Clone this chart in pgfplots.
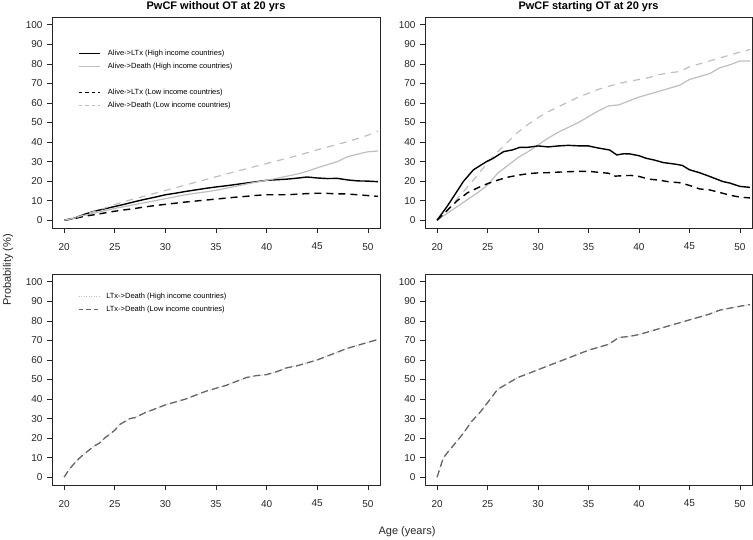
\documentclass[border=0pt]{standalone}
\usepackage{pgfplots}
\pgfplotsset{compat=1.18}
\usepackage{fontspec}
\setmainfont{Liberation Sans}

\definecolor{rgray}{HTML}{BEBEBE}
\definecolor{dgray}{HTML}{666666}

\pgfplotsset{
  panel/.style={
    scale only axis,
    anchor=south west,
    height=211pt,
    xmin=18.8, xmax=51.2,
    ymin=-4, ymax=104,
    xtick={20,25,...,50},
    ytick={0,10,...,100},
    tick align=outside,
    tick pos=left,
    major tick length=5pt,
    axis line style={black!85, line width=0.7pt},
    every tick/.style={black!85, line width=0.7pt},
    /pgf/number format/assume math mode=true,
    tick label style={font=\fontsize{10}{12}\selectfont, black!85},
    xticklabel style={yshift=-6.5pt},
    yticklabel style={xshift=-1pt},
    title style={font=\fontsize{11}{13}\selectfont\bfseries, anchor=base, yshift=1.5pt},
    legend cell align=left,
    legend image code/.code={\draw[##1] (0pt,0pt) -- (21pt,0pt);},
  },
  hi/.style={black, line width=1.4pt},
  hd/.style={rgray, line width=1.2pt},
  li/.style={black, line width=1.4pt, dash pattern=on 7pt off 5pt},
  ld/.style={rgray, line width=1.2pt, dash pattern=on 7pt off 6pt},
  tdot/.style={rgray, line width=1pt, dash pattern=on 1pt off 2pt},
  tdash/.style={dgray, line width=1.3pt, dash pattern=on 7pt off 4pt},
}

% PwCF without OT
\pgfplotstableread{
age val
20 0
21 1
22 3
23 4.6
24 5.8
25 7
26 8.2
27 9.5
28 10.7
29 11.8
30 13
31 13.8
32 14.7
33 15.5
34 16.3
35 17
36 17.6
37 18.3
38 19
39 19.7
40 20.4
41 20.7
42 21
43 21.5
44 22.1
45 21.6
46 21.3
47 21.4
48 20.6
49 20.1
50 20
51 19.7
}\nohiltx
\pgfplotstableread{
age val
20 0
21 1
22 2.5
23 3.6
24 4.8
25 6
26 7
27 8
28 9
29 10
30 11
31 12
32 13
33 13.8
34 14.5
35 15.3
36 16.3
37 17.4
38 18.5
39 19.5
40 20.4
41 21.4
42 22.5
43 23.6
44 25
45 26.8
46 28.4
47 30
48 32.5
49 33.8
50 35
51 35.4
}\nohidth
\pgfplotstableread{
age val
20 0
21 0.8
22 2
23 2.8
24 3.7
25 4.6
26 5.3
27 6
28 6.8
29 7.5
30 8.1
31 8.7
32 9.3
33 9.8
34 10.3
35 10.8
36 11.3
37 11.8
38 12.2
39 12.7
40 13
41 13
42 13
43 13.3
44 13.6
45 13.8
46 13.7
47 13.5
48 13.4
49 13
50 12.6
51 12.2
}\nololtx
\pgfplotstableread{
age val
20 0
21 1
22 2.8
23 4.5
24 6.2
25 8
26 9.6
27 11
28 12.4
29 13.8
30 15.2
31 16.6
32 18
33 19.4
34 20.8
35 22.2
36 23.6
37 25
38 26.3
39 27.7
40 29
41 30.3
42 31.7
43 33
44 34.5
45 36
46 37.4
47 38.8
48 40.2
49 41.8
50 43.5
51 45.5
}\nolodth
% PwCF starting OT
\pgfplotstableread{
age val
20 0
21 7.1
22 15
22.6 19.8
23.6 25.8
24.9 30
25.5 31.5
26.6 35.1
27.5 36
28.2 37.3
29 37.3
30 38
31 37.5
32 38
33 38.3
34.2 38
35 38
35.8 37.1
37.1 35.9
37.8 33.4
38.5 34
39.1 33.9
40 33
40.7 31.7
41.5 30.8
42.4 29.5
43.7 28.6
44.3 28
45 25.8
46 24.3
47 22.4
48.3 19.8
49 19
50 17.3
51 16.8
}\otiltx
\pgfplotstableread{
age val
20 0
21 3.5
22 7
23 10.5
24 14
25 18
26 24
27 28
28 32
29 35
30 38.5
31 42
32 45
33 47.5
34 50
35 53
36 56
37 58.5
38 59
39 61
40 63
41 64.5
42 66
43 67.5
44 69
45 72
46 73.5
47 75
48 78
49 79.5
50 81.5
51 81.5
}\otihdth
\pgfplotstableread{
age val
20 0
21 5
22 10
23 14
24 16.5
25 18.7
26 20.5
27 22
28 23
29 23.8
30 24.2
31 24.3
32 24.6
33 24.8
34 25
35 25
36 24.5
37 24
37.5 22.5
38.5 22.8
39.2 22.9
40 22.4
41 21
42 20.5
43 19.6
44 19.2
45 17.8
46 16
47 15.5
48 14.2
49 12.8
50 11.8
51 11.4
}\otloltx
\pgfplotstableread{
age val
20 0
21 5
22 11
23 17
24 23
25 29.5
26 35
27 40
28 45
29 49
30 52.5
31 55.5
32 58
33 60.5
34 63
35 65
36 67
37 68.5
38 70
39 71
40 72
41 73
42 74.5
43 75.5
44 76
45 78.5
46 80
47 81.5
48 83
49 84.5
50 86
51 87.3
}\otlodth
% LTx -> Death
\pgfplotstableread{
age val
20 0
20.5 4
21 7
21.5 9.7
22 12
23 16
23.5 17.5
24 20
25 24
25.5 27
26 28.5
26.5 30
27 30.5
28 33
29 35
30 37
31 38.5
32 40
33 42
34 44
35 45.5
36 47
37 49
38 51
39 52
40 52.5
41 54
42 56
43 57
44 58.5
45 60
46 62
47 64
48 66
49 67.5
50 69
51 70.5
}\noltxdth
\pgfplotstableread{
age val
20 0
20.6 9.7
21.1 13.1
21.8 17.4
22.6 22.5
23.4 28.4
24.3 33.5
25.2 39.5
26 45
27 48
28 51
29 53
30 55
31 57
32 59
33 61
34 63
35 65
36 66.5
37 68
38 71.5
39 72
40 73
41 74.5
42 76
43 77.5
44 79
45 80.5
46 82
47 83.5
48 85.5
49 86.5
50 87.5
51 88.3
}\otltxdth

\begin{document}
\begin{tikzpicture}
\path[use as bounding box] (0pt,0pt) rectangle (753pt,540pt);

\begin{axis}[panel, at={(52pt,312pt)}, width=328pt,
  title={PwCF without OT at 20 yrs},
  legend style={at={(0.07,0.858)}, anchor=north west, draw=none, fill=none,
    font=\fontsize{7.5}{9}\selectfont, row sep=5pt, column sep=8pt,
    nodes={inner sep=0pt, text height=6pt, text depth=2pt}},
]
\addplot[hi, forget plot] table[x=age,y=val]{\nohiltx};
\addplot[hd, forget plot] table[x=age,y=val]{\nohidth};
\addplot[li, forget plot] table[x=age,y=val]{\nololtx};
\addplot[ld, forget plot] table[x=age,y=val]{\nolodth};
\addlegendimage{black, line width=0.8pt}
\addlegendentry{Alive->LTx (High income countries)}
\addlegendimage{rgray, line width=0.8pt}
\addlegendentry{Alive->Death (High income countries)}
\addlegendimage{empty legend}
\addlegendentry{\ }
\addlegendimage{black, line width=0.8pt, dash pattern=on 3.5pt off 3pt}
\addlegendentry{Alive->LTx (Low income countries)}
\addlegendimage{rgray, line width=0.8pt, dash pattern=on 3.5pt off 3pt}
\addlegendentry{Alive->Death (Low income countries)}
\end{axis}

\begin{axis}[panel, at={(425pt,312pt)}, width=327pt,
  title={PwCF starting OT at 20 yrs}]
\addplot[hd] table[x=age,y=val]{\otihdth};
\addplot[ld] table[x=age,y=val]{\otlodth};
\addplot[hi] table[x=age,y=val]{\otiltx};
\addplot[li] table[x=age,y=val]{\otloltx};
\end{axis}

\begin{axis}[panel, at={(52pt,55pt)}, width=328pt,
  legend style={at={(0.07,0.924)}, anchor=north west, draw=none, fill=none,
    font=\fontsize{7.5}{9}\selectfont, row sep=5pt, column sep=6pt,
    nodes={inner sep=0pt, text height=6pt, text depth=2pt}},
]
\addplot[tdot, forget plot] table[x=age,y=val]{\noltxdth};
\addplot[tdash, forget plot] table[x=age,y=val]{\noltxdth};
\addlegendimage{rgray, line width=0.8pt, dash pattern=on 1pt off 1.5pt}
\addlegendentry{LTx->Death (High income countries)}
\addlegendimage{dgray, line width=1.1pt, dash pattern=on 4.5pt off 3pt}
\addlegendentry{LTx->Death (Low income countries)}
\end{axis}

\begin{axis}[panel, at={(425pt,55pt)}, width=327pt]
\addplot[tdot] table[x=age,y=val]{\otltxdth};
\addplot[tdash] table[x=age,y=val]{\otltxdth};
\end{axis}

\node[rotate=90, font=\fontsize{11}{13}\selectfont, black!85] at (8pt,270pt) {Probability (\%)};
\node[font=\fontsize{11}{13}\selectfont, black!85] at (407pt,8pt) {Age (years)};
\end{tikzpicture}
\end{document}
